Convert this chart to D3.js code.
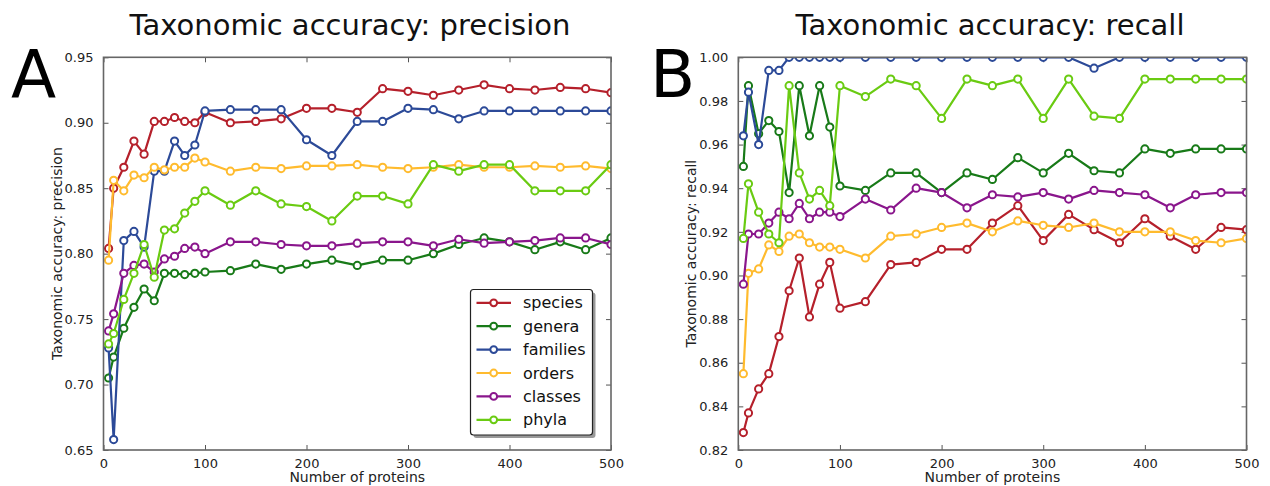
<!DOCTYPE html>
<html>
<head>
<meta charset="utf-8">
<script src="https://cdn.jsdelivr.net/npm/d3@7"></script>
<style>
  body { margin: 0; background: #fff; }
  svg text { font-family: "DejaVu Sans", sans-serif; }
</style>
</head>
<body>
<svg id="chart"></svg>
<script>
var width = 1270,
    height = 486;

var proteins = [5, 10, 20, 30, 40, 50, 60, 70, 80, 90, 100, 125, 150, 175, 200,
    225, 250, 275, 300, 325, 350, 375, 400, 425, 450, 475, 500];
var taxa = ['species', 'genera', 'families', 'orders', 'classes', 'phyla'];
var colors = ['#b5202b', '#187a18', '#2c4a98', '#ffbb2e', '#8a168c', '#6acb12'];

var precSpecies  = [0.804, 0.850, 0.866, 0.886, 0.876, 0.901, 0.901, 0.904, 0.901, 0.900, 0.908, 0.900, 0.901, 0.903, 0.911, 0.911, 0.908, 0.926, 0.924, 0.921, 0.925, 0.929, 0.926, 0.925, 0.927, 0.926, 0.923];
var precGenera   = [0.705, 0.721, 0.743, 0.759, 0.773, 0.764, 0.785, 0.785, 0.784, 0.785, 0.786, 0.787, 0.792, 0.788, 0.792, 0.795, 0.791, 0.795, 0.795, 0.800, 0.807, 0.812, 0.809, 0.803, 0.809, 0.803, 0.812];
var precFamilies = [0.728, 0.658, 0.810, 0.817, 0.805, 0.863, 0.863, 0.886, 0.875, 0.883, 0.909, 0.910, 0.910, 0.910, 0.887, 0.875, 0.901, 0.901, 0.911, 0.910, 0.903, 0.909, 0.909, 0.909, 0.909, 0.909, 0.909];
var precOrders   = [0.795, 0.856, 0.848, 0.860, 0.858, 0.866, 0.864, 0.866, 0.866, 0.873, 0.870, 0.863, 0.866, 0.865, 0.867, 0.867, 0.868, 0.866, 0.865, 0.866, 0.868, 0.866, 0.866, 0.867, 0.866, 0.867, 0.865];
var precClasses  = [0.741, 0.754, 0.785, 0.791, 0.792, 0.786, 0.796, 0.798, 0.804, 0.805, 0.800, 0.809, 0.809, 0.807, 0.806, 0.806, 0.808, 0.809, 0.809, 0.806, 0.811, 0.808, 0.809, 0.810, 0.812, 0.812, 0.807];
var precPhyla    = [0.731, 0.739, 0.765, 0.785, 0.807, 0.782, 0.818, 0.819, 0.831, 0.840, 0.848, 0.837, 0.848, 0.838, 0.836, 0.825, 0.844, 0.844, 0.838, 0.868, 0.863, 0.868, 0.868, 0.848, 0.848, 0.848, 0.868];

var recSpecies  = [0.828, 0.837, 0.848, 0.855, 0.872, 0.893, 0.908, 0.881, 0.896, 0.906, 0.885, 0.888, 0.905, 0.906, 0.912, 0.912, 0.924, 0.932, 0.916, 0.928, 0.921, 0.915, 0.926, 0.918, 0.912, 0.922, 0.921];
var recGenera   = [0.950, 0.987, 0.965, 0.971, 0.966, 0.938, 0.987, 0.964, 0.987, 0.968, 0.941, 0.939, 0.947, 0.947, 0.938, 0.947, 0.944, 0.954, 0.947, 0.956, 0.948, 0.947, 0.958, 0.956, 0.958, 0.958, 0.958];
var recFamilies = [0.964, 0.984, 0.960, 0.994, 0.994, 1.000, 1.000, 1.000, 1.000, 1.000, 1.000, 1.000, 1.000, 1.000, 1.000, 1.000, 1.000, 1.000, 1.000, 1.000, 0.995, 1.000, 1.000, 1.000, 1.000, 1.000, 1.000];
var recOrders   = [0.855, 0.901, 0.903, 0.914, 0.911, 0.918, 0.919, 0.915, 0.913, 0.913, 0.912, 0.908, 0.918, 0.919, 0.922, 0.924, 0.920, 0.925, 0.923, 0.922, 0.924, 0.920, 0.920, 0.920, 0.916, 0.915, 0.917];
var recClasses  = [0.896, 0.919, 0.919, 0.924, 0.929, 0.926, 0.933, 0.926, 0.929, 0.929, 0.927, 0.935, 0.930, 0.940, 0.938, 0.931, 0.937, 0.936, 0.938, 0.935, 0.939, 0.938, 0.937, 0.931, 0.937, 0.938, 0.938];
var recPhyla    = [0.917, 0.942, 0.929, 0.919, 0.915, 0.987, 0.947, 0.935, 0.939, 0.932, 0.987, 0.982, 0.990, 0.987, 0.972, 0.990, 0.987, 0.990, 0.972, 0.990, 0.973, 0.972, 0.990, 0.990, 0.990, 0.990, 0.990];

var xTicks = [0, 100, 200, 300, 400, 500];
var precTicks = [0.65, 0.70, 0.75, 0.80, 0.85, 0.90, 0.95];
var recTicks = [0.82, 0.84, 0.86, 0.88, 0.90, 0.92, 0.94, 0.96, 0.98, 1.00];

var svg = d3.select('#chart')
    .attr('width', width)
    .attr('height', height);

svg.append('rect')
    .attr('width', width)
    .attr('height', height)
    .attr('fill', 'white');

drawPanel({
    id: 'A',
    letter: 'A',
    letterX: 11,
    titleX: 350,
    left: 103.5,
    right: 611,
    top: 57.3,
    bottom: 450,
    yDomain: [0.65, 0.95],
    yTicks: precTicks,
    title: 'Taxonomic accuracy: precision',
    yLabel: 'Taxonomic accuracy: precision',
    series: [precSpecies, precGenera, precFamilies, precOrders, precClasses, precPhyla],
    legend: true
});

drawPanel({
    id: 'B',
    letter: 'B',
    letterX: 650,
    titleX: 990,
    left: 738.3,
    right: 1246.5,
    top: 57.3,
    bottom: 450,
    yDomain: [0.82, 1.00],
    yTicks: recTicks,
    title: 'Taxonomic accuracy: recall',
    yLabel: 'Taxonomic accuracy: recall',
    series: [recSpecies, recGenera, recFamilies, recOrders, recClasses, recPhyla],
    legend: false
});

function drawPanel(p) {
    var x = d3.scaleLinear().domain([0, 500]).range([p.left, p.right]);
    var y = d3.scaleLinear().domain(p.yDomain).range([p.bottom, p.top]);
    var g = svg.append('g');

    g.append('clipPath')
        .attr('id', 'clip' + p.id)
        .append('rect')
        .attr('x', p.left)
        .attr('y', p.top)
        .attr('width', p.right - p.left)
        .attr('height', p.bottom - p.top);

    // axes: labels outside, ticks pointing in on every side
    var fmt = d3.format('.2f');
    var axes = [
        d3.axisBottom(x).tickValues(xTicks).tickSize(-5).tickPadding(9).tickFormat(d3.format('d')),
        d3.axisTop(x).tickValues(xTicks).tickSize(-5).tickFormat(''),
        d3.axisLeft(y).tickValues(p.yTicks).tickSize(-5).tickPadding(10).tickFormat(fmt),
        d3.axisRight(y).tickValues(p.yTicks).tickSize(-5).tickFormat('')
    ];
    var shifts = ['translate(0,' + p.bottom + ')', 'translate(0,' + p.top + ')',
        'translate(' + p.left + ',0)', 'translate(' + p.right + ',0)'];
    axes.forEach(function (axis, i) {
        var a = g.append('g')
            .attr('transform', shifts[i])
            .call(axis);
        a.select('.domain').remove();
        a.selectAll('line').attr('stroke', '#555').attr('stroke-width', 1);
        a.selectAll('text')
            .attr('fill', '#222')
            .style('font-size', '13px')
            .style('font-family', '"DejaVu Sans", sans-serif');
    });

    var line = d3.line()
        .x(function (d, i) { return x(proteins[i]); })
        .y(function (d) { return y(d); });

    var plot = g.append('g').attr('clip-path', 'url(#clip' + p.id + ')');
    p.series.forEach(function (values, k) {
        plot.append('path')
            .datum(values)
            .attr('d', line)
            .attr('fill', 'none')
            .attr('stroke', colors[k])
            .attr('stroke-width', 2.2)
            .attr('stroke-linejoin', 'round');
        plot.selectAll(null)
            .data(values)
            .enter().append('circle')
            .attr('cx', function (d, i) { return x(proteins[i]); })
            .attr('cy', function (d) { return y(d); })
            .attr('r', 3.6)
            .attr('fill', 'white')
            .attr('stroke', colors[k])
            .attr('stroke-width', 2);
    });

    g.append('rect')
        .attr('x', p.left)
        .attr('y', p.top)
        .attr('width', p.right - p.left)
        .attr('height', p.bottom - p.top)
        .attr('fill', 'none')
        .attr('stroke', '#666')
        .attr('stroke-width', 1.6);

    var cx = (p.left + p.right) / 2;
    g.append('text')
        .attr('x', p.titleX)
        .attr('y', 34.5)
        .attr('text-anchor', 'middle')
        .style('font-size', '29px')
        .attr('fill', '#111')
        .text(p.title);

    g.append('text')
        .attr('x', cx)
        .attr('y', 482)
        .attr('text-anchor', 'middle')
        .style('font-size', '14px')
        .attr('fill', '#222')
        .text('Number of proteins');

    g.append('text')
        .attr('transform', 'translate(' + (p.left - 42) + ',' + ((p.top + p.bottom) / 2) + ') rotate(-90)')
        .attr('text-anchor', 'middle')
        .style('font-size', '14px')
        .attr('fill', '#222')
        .text(p.yLabel);

    g.append('text')
        .attr('x', p.letterX)
        .attr('y', 97)
        .style('font-size', '66px')
        .attr('fill', '#000')
        .text(p.letter);

    if (p.legend) drawLegend(g);
}

function drawLegend(g) {
    var lx = 470.5, ly = 289.5, lw = 122, lh = 145.5, row = 23.4;
    g.append('rect')
        .attr('x', lx + 3).attr('y', ly + 3)
        .attr('width', lw).attr('height', lh)
        .attr('rx', 3)
        .attr('fill', '#999');
    g.append('rect')
        .attr('x', lx).attr('y', ly)
        .attr('width', lw).attr('height', lh)
        .attr('rx', 3)
        .attr('fill', 'white')
        .attr('stroke', '#222')
        .attr('stroke-width', 1.2);

    var items = g.selectAll('.legend-item')
        .data(taxa)
        .enter().append('g')
        .attr('class', 'legend-item')
        .attr('transform', function (d, i) { return 'translate(' + lx + ',' + (ly + 13.3 + i * row) + ')'; });
    items.append('line')
        .attr('x1', 6).attr('x2', 40.5)
        .attr('stroke', function (d, i) { return colors[i]; })
        .attr('stroke-width', 2.2);
    items.append('circle')
        .attr('cx', 23.2)
        .attr('r', 3.4)
        .attr('fill', 'white')
        .attr('stroke', function (d, i) { return colors[i]; })
        .attr('stroke-width', 2);
    items.append('text')
        .attr('x', 52.5)
        .attr('dy', '0.35em')
        .style('font-size', '16px')
        .attr('fill', '#111')
        .text(function (d) { return d; });
}
</script>
</body>
</html>
